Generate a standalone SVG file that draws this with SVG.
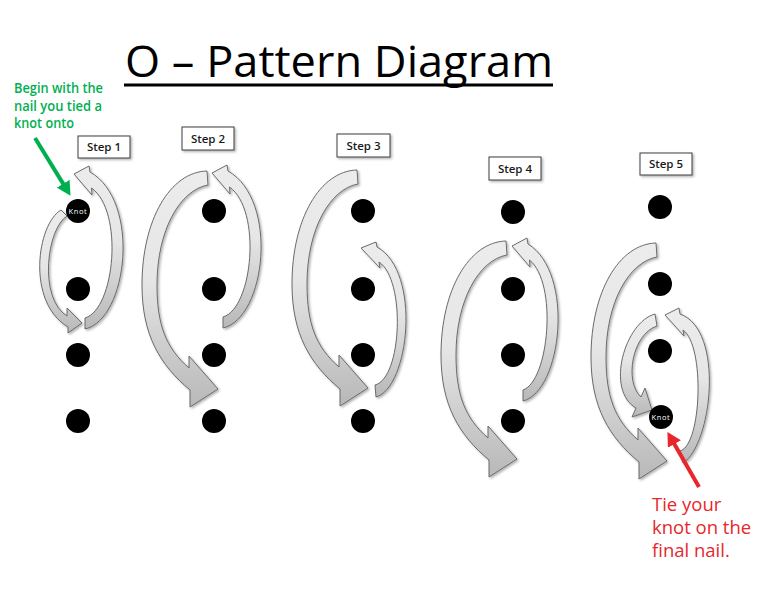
<svg xmlns="http://www.w3.org/2000/svg" xmlns:xlink="http://www.w3.org/1999/xlink" width="768" height="593" viewBox="0 0 768 593">
<defs>
  <linearGradient id="g" x1="0" y1="0" x2="0" y2="1">
    <stop offset="0" stop-color="#ececec"/>
    <stop offset="0.45" stop-color="#e6e6e6"/>
    <stop offset="1" stop-color="#b8b8b8"/>
  </linearGradient>
  <filter id="sh" x="-20%" y="-20%" width="150%" height="150%">
    <feDropShadow dx="1.5" dy="1.5" stdDeviation="1.2" flood-color="#000" flood-opacity="0.3"/>
  </filter>
  <path id="bigArrow" d="M207,171 C170,172 142,220 142,285 C142,335 160,365 190,390 L190,407 L218,389 L189,356 L189,368 C166,348 157,325 157,285 C157,230 180,190 208,185 Z"/>
  <path id="upArrow" d="M223,328 C266,318 279,200 228,171 L227,165 L212,173 L230,194 L229.5,187 C262,210 253,308 223,317 Z"/>
  <marker id="headG" viewBox="0 0 14 15" refX="1" refY="7.5" markerWidth="14" markerHeight="15" markerUnits="userSpaceOnUse" orient="auto">
    <path d="M0,0 L14,7.5 L0,15 Z" fill="#00B050"/>
  </marker>
  <marker id="headR" viewBox="0 0 14 15" refX="1" refY="7.5" markerWidth="14" markerHeight="15" markerUnits="userSpaceOnUse" orient="auto">
    <path d="M0,0 L14,7.5 L0,15 Z" fill="#E8262B"/>
  </marker>
</defs>
<style>
  .arr{fill:url(#g);stroke:#6a6a6a;stroke-width:1;stroke-linejoin:round;filter:url(#sh)}
  .nail{fill:#000}
  .box{fill:#fff;stroke:#3c3c3c;stroke-width:1;filter:url(#sh)}
  .step{font-family:'Open Sans','Liberation Sans',sans-serif;font-size:11.5px;font-weight:600;fill:#1a1a1a;text-anchor:middle}
  .knot{font-family:'Open Sans','Liberation Sans',sans-serif;font-size:7.5px;fill:#fff;text-anchor:middle;letter-spacing:0.6px}
  .title{font-family:'Open Sans','Liberation Sans',sans-serif;font-size:44px;fill:#000}
  .green{font-family:'Open Sans','Liberation Sans',sans-serif;font-size:13.5px;font-weight:600;fill:#00B050}
  .red{font-family:'Open Sans','Liberation Sans',sans-serif;font-size:18.5px;fill:#E8262B}
</style>
<rect width="768" height="593" fill="#fff"/>

<g id="title">
  <text class="title" x="125" y="77" textLength="428" lengthAdjust="spacingAndGlyphs">O – Pattern Diagram</text>
  <rect x="124" y="83.5" width="429" height="3" fill="#000"/>
</g>

<g id="note-begin">
  <text class="green" x="14" y="93" textLength="89" lengthAdjust="spacingAndGlyphs">Begin with the</text>
  <text class="green" x="14" y="111" textLength="88" lengthAdjust="spacingAndGlyphs">nail you tied a</text>
  <text class="green" x="14" y="128" textLength="60" lengthAdjust="spacingAndGlyphs">knot onto</text>
</g>

<g id="note-tie">
  <text class="red" x="652" y="511">Tie your</text>
  <text class="red" x="652" y="534">knot on the</text>
  <text class="red" x="652" y="557">final nail.</text>
</g>

<g id="connectors">
  <!-- Step 1 -->
  <path class="arr" d="M61,210 C37,224 26,302 68,327 L68,333 L82,323 L67,308 L67,316 C38,298 47,228 67,216 Z"/>
  <use class="arr" xlink:href="#upArrow" href="#upArrow" transform="translate(-138,1)"/>
  <!-- Step 2 -->
  <use class="arr" xlink:href="#bigArrow" href="#bigArrow"/>
  <use class="arr" xlink:href="#upArrow" href="#upArrow"/>
  <!-- Step 3 -->
  <use class="arr" xlink:href="#bigArrow" href="#bigArrow" transform="translate(150,-1)"/>
  <path class="arr" d="M376,397 C409,388 422,272 377,247 L376,242 L361,248 L380,268 L379,262 C406,280 402,378 375,385 Z"/>
  <!-- Step 4 -->
  <use class="arr" xlink:href="#bigArrow" href="#bigArrow" transform="translate(299,70)"/>
  <path class="arr" d="M523,401 C562,391 575,273 528,244 L527,238 L512,246 L530,267 L529.5,260 C558,283 549,381 523,390 Z"/>
  <!-- Step 5 -->
  <use class="arr" xlink:href="#bigArrow" href="#bigArrow" transform="translate(449,72)"/>
  <path class="arr" d="M683,463 C712,445 725,330 680,314 L679,308 L665,315 L684,336 L683,330 C705,345 702,445 680,451 Z"/>
  <path class="arr" d="M655,314 C625,322 605,390 636,408 L632,417 L652,410 L645,388 L641,397 C624,382 632,334 657,326 Z"/>
</g>

<g id="step1">
  <rect class="box" x="78" y="136" width="52" height="22"/>
  <text class="step" x="104" y="151">Step 1</text>
  <circle class="nail" cx="78" cy="211" r="12"/>
  <text class="knot" x="78" y="213.5">Knot</text>
  <circle class="nail" cx="78" cy="289" r="12"/>
  <circle class="nail" cx="78" cy="355" r="12"/>
  <circle class="nail" cx="78" cy="421" r="12"/>
</g>
<g id="step2">
  <rect class="box" x="182" y="127" width="52" height="23"/>
  <text class="step" x="208" y="142.5">Step 2</text>
  <circle class="nail" cx="214" cy="211" r="12"/>
  <circle class="nail" cx="214" cy="289" r="12"/>
  <circle class="nail" cx="214" cy="355" r="12"/>
  <circle class="nail" cx="214" cy="421" r="12"/>
</g>
<g id="step3">
  <rect class="box" x="337" y="134" width="53" height="23"/>
  <text class="step" x="363.5" y="149.5">Step 3</text>
  <circle class="nail" cx="363" cy="211" r="12"/>
  <circle class="nail" cx="363" cy="289" r="12"/>
  <circle class="nail" cx="363" cy="355" r="12"/>
  <circle class="nail" cx="363" cy="421" r="12"/>
</g>
<g id="step4">
  <rect class="box" x="489" y="157" width="52" height="23"/>
  <text class="step" x="515" y="172.5">Step 4</text>
  <circle class="nail" cx="513" cy="212" r="12"/>
  <circle class="nail" cx="513" cy="289" r="12"/>
  <circle class="nail" cx="513" cy="355" r="12"/>
  <circle class="nail" cx="513" cy="421" r="12"/>
</g>
<g id="step5">
  <rect class="box" x="640" y="153" width="52" height="22"/>
  <text class="step" x="666" y="168">Step 5</text>
  <circle class="nail" cx="660" cy="207" r="12"/>
  <circle class="nail" cx="660" cy="284" r="12"/>
  <circle class="nail" cx="660" cy="351" r="12"/>
  <circle class="nail" cx="661" cy="417" r="12"/>
  <text class="knot" x="661" y="419.5">Knot</text>
</g>

<g id="pointers">
  <line x1="35" y1="138" x2="63.7" y2="184.6" stroke="#00B050" stroke-width="4" marker-end="url(#headG)"/>
  <line x1="699" y1="487" x2="673.9" y2="443.2" stroke="#E8262B" stroke-width="4" marker-end="url(#headR)"/>
</g>
</svg>
